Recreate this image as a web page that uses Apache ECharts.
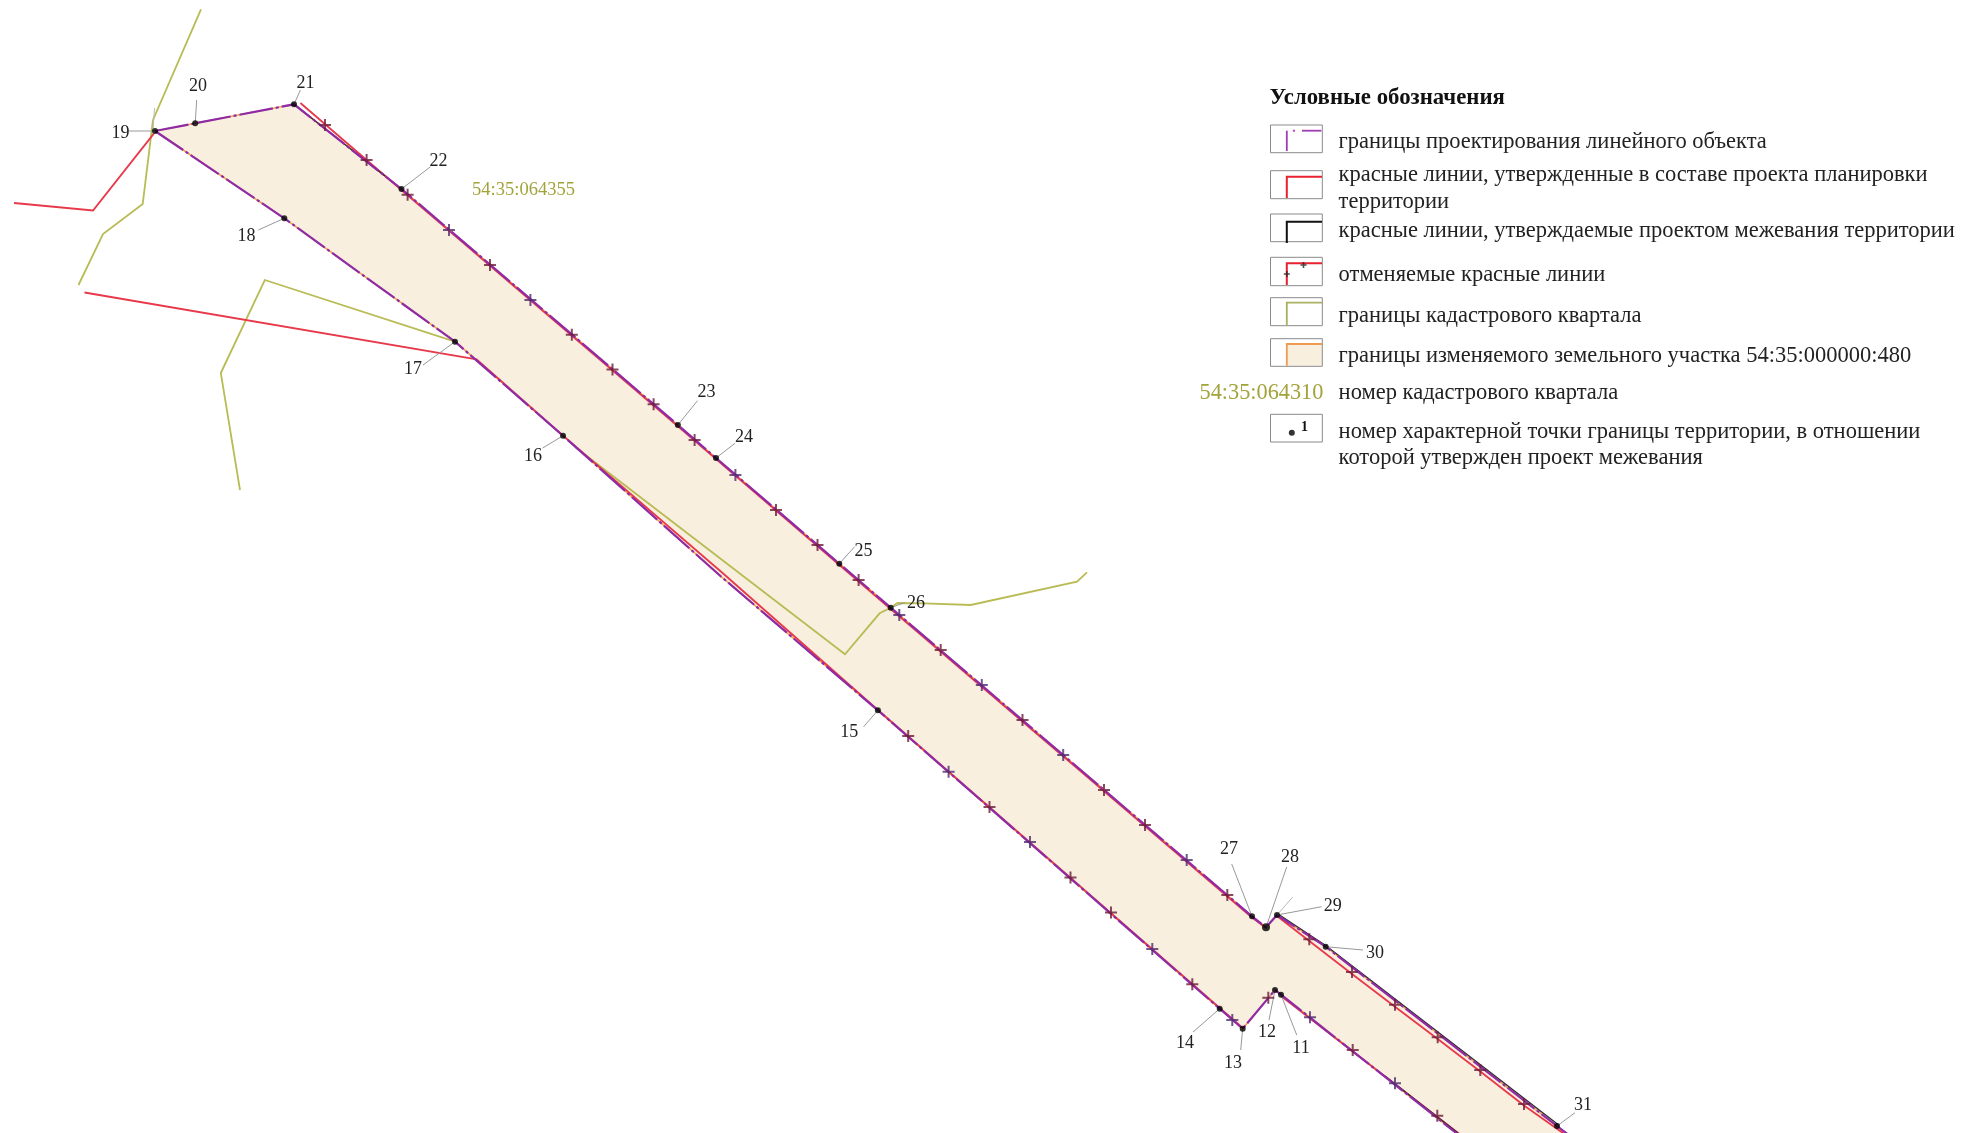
<!DOCTYPE html>
<html><head><meta charset="utf-8">
<style>html,body{margin:0;padding:0;background:#fff}#c{width:1977px;height:1133px}</style>
<script src="https://cdn.jsdelivr.net/npm/echarts@6/dist/echarts.min.js"></script>
</head><body><div id="c"></div>
<script>
const parcelOutline=[[155,131],[195.2,123.3],[294,104.3],[401.5,189],[677.9,425],[716,458],[839.3,563.7],[890.7,607.7],[1252,916.3],[1266,927.3],[1277,915],[1325.7,946.7],[1557,1126],[1567,1133],[1457,1133],[1281,994.7],[1275,990],[1242.7,1028.7],[1219.7,1008.7],[877.9,710.3],[721,576.5],[563,435.7],[455,341.7],[284.3,218.3]];
const designBoundary=[[155,131],[195.2,123.3],[294,104.3],[401.5,189],[677.9,425],[716,458],[839.3,563.7],[890.7,607.7],[1252,916.3],[1266,927.3],[1277,915],[1325.7,946.7],[1557,1126],[1570,1136]];
const designBoundaryLower=[[155,131],[284.3,218.3],[455,341.7],[563,435.7],[721,576.5],[877.9,710.3],[1219.7,1008.7],[1242.7,1028.7],[1275,990],[1281,994.7],[1460,1136]];
const redWest=[[14,203],[93,210.5],[153.8,133.6]];
const redSouth=[[84.5,292.5],[476.6,359.3],[563,435.7],[722,572.5],[877.9,710],[1219.7,1008],[1242.7,1028]];
const redNorth=[[300.4,103],[366.6,160],[401.5,190],[677.9,426.3],[890.7,609],[1252,917.5],[1266,928]];
const redEast=[[1277,916],[1309.3,941],[1352,974],[1395,1006.7],[1437.7,1039],[1480.3,1071.5],[1524,1105.5],[1570,1138]];
const redSouthEast=[[1281,996],[1462,1136]];
const blackNorth=[[294,104.3],[385,176]];
const blackEast=[[1278,914],[1325.7,945.5],[1558,1124.5]];
const blackSouthEast=[[1385,1076],[1458,1133]];
const greyTicks=[[[154.5,108],[153,130]],[[1292.7,897],[1277,915]]];
const olivePaths=[
 [[201,9.3],[153,120],[142.7,204],[103,234],[78.5,285]],
 [[240,490],[220.8,373],[264.8,280],[455,341.7]],
 [[575,447],[845,654.3],[879.6,613.3],[890.7,607.7],[897.5,603],[924.3,603.3],[970.7,605],[1077,581.7],[1087,572.3]]
];
const crossMarks=[[325,125],[366.6,160],[407.6,194.7],[490,265],[571.8,334.7],[612.5,369.5],[653.6,404.3],[694.6,440],[776,510],[817.5,545],[858.6,580],[940.7,650],[1022.5,720],[1104,790],[1145,825],[1227.3,895],[1309.3,939.3],[1352,972],[1395,1004.7],[1437.7,1037.3],[1480.3,1070],[1524,1104],[908.2,736],[989.5,807],[1070.5,877.5],[1111,912.5],[1192.3,984.3],[1268.3,997.7],[1352.7,1050],[1437.3,1115.7]];
const crossMarksPurple=[[449,230],[530.4,300],[735.4,475],[899.3,615],[981.8,685],[1063.2,755],[1186.7,860],[948.6,771.7],[1030,842],[1152.3,949],[1232.3,1020],[1310,1017.3],[1395,1083.3]];
const pointNames=['11','12','13','14','15','16','17','18','19','20','21','22','23','24','25','26','27','28','29','30','31'];
const pointXY=[[1281,994.7],[1275,990],[1242.7,1028.7],[1219.7,1008.7],[877.9,710.3],[563,435.7],[455,341.7],[284.3,218.3],[155,131],[195.2,123.3],[294,104.3],[401.5,189],[677.9,425],[716,458],[839.3,563.7],[890.7,607.7],[1252,916.3],[1266,927.3],[1277,915],[1325.7,946.7],[1557,1126]];
const labelXY=[[1301,1048.2],[1267,1032.2],[1233,1063.2],[1185,1043.2],[849.3,732],[533,456.2],[413,369.5],[246.5,236.2],[120.5,133],[197.9,86.5],[305.4,83],[438.6,161.2],[706.4,392.2],[744,437],[863.6,551.2],[916,603],[1229,849.2],[1290,857.2],[1332.7,906],[1375,953.2],[1583,1105.2]];
const leaderEnds=[[1296.7,1035],[1269,1020],[1240.7,1050],[1193,1032],[863.6,726.7],[542.7,448],[423,365],[258.3,230],[129,131],[196.7,100],[300.4,90],[430.5,166.7],[697.5,400.7],[735,443.3],[854.6,546.7],[904.6,602.7],[1231.7,864],[1286.7,867],[1321.7,906.7],[1363,950],[1575,1112.7]];
const quarterLabel='54:35:064355';
const quarterLabelXY=[523.5,189.8];
const legendTitle='Условные обозначения';
const legendTitleXY=[1269.6,97.8];
const legendLines=[
 ['границы проектирования линейного объекта',141.7],
 ['красные линии, утвержденные в составе проекта планировки',175.3],
 ['территории',201.7],
 ['красные линии, утверждаемые проектом межевания территории',230.7],
 ['отменяемые красные линии',274.7],
 ['границы кадастрового квартала',315.7],
 ['границы изменяемого земельного участка 54:35:000000:480',355.7],
 ['номер кадастрового квартала',393.3],
 ['номер характерной точки границы территории, в отношении',431.8],
 ['которой утвержден проект межевания',458.3]
];
const legendTextX=1338.6;
const legendQuarterText='54:35:064310';
const legendQuarterXY=[1323.4,393.2];
const legendBoxes=[[125,152.7],[170.7,198.7],[214,241.7],[257.3,285.7],[297.7,325.7],[338.7,366.3],[414.3,442]];
const legendBoxX=[1270.5,1322.3];
const legendPurpleV=[[1286.8,130.7],[1286.8,151]];
const legendPurpleDot=[[1293.9,130.7]];
const legendPurpleH=[[1302,130.7],[1321.3,130.7]];
const legendRed=[[1286.8,198],[1286.8,176.7],[1322,176.7]];
const legendBlack=[[1286.8,243],[1286.8,221.7],[1322,221.7]];
const legendCancel=[[1286.8,285],[1286.8,263.3],[1322,263.3]];
const legendCancelMarks=[[1303.5,265],[1286.8,274]];
const legendOlive=[[1286.8,325],[1286.8,302.7],[1322,302.7]];
const legendOrange=[[1286.8,365.8],[1286.8,344],[1322,344]];
const legendOrangeFill=[[1286.8,344],[1322,344],[1322,365.8],[1286.8,365.8]];
const legendDot=[[1291.8,432.7]];
const legendDotLabel=[1304.6,427.3];

const serif='"Liberation Serif","DejaVu Serif",serif';
const line=(data,color,width,z,dash)=>({type:'line',data,symbol:'none',silent:true,animation:false,z,
  lineStyle:{color,width,type:dash||'solid',cap:'butt',join:'miter'}});
const poly=(pts,fill,stroke,z,lw)=>({type:'custom',silent:true,animation:false,z,clip:true,coordinateSystem:'cartesian2d',
  data:pts,encode:{x:0,y:1},
  renderItem:(p,api)=>p.dataIndex===0?{type:'polygon',shape:{points:pts.map(q=>api.coord(q))},
    style:{fill,stroke:stroke||'none',lineWidth:lw||0}}:null});
const text=(s,xy,size,color,align,weight,z)=>({type:'scatter',silent:true,animation:false,z:z||20,symbolSize:1,
  itemStyle:{opacity:0},data:[{value:xy,name:s}],
  label:{show:true,position:'inside',formatter:s,fontFamily:serif,fontSize:size,color,align:align||'center',
    verticalAlign:'middle',fontWeight:weight||'normal',opacity:1}});
const marks=(data,color,size,w,z)=>({type:'scatter',silent:true,animation:false,z:z||12,data,
  symbol:'path://M6,0L6,12M0,6L12,6',symbolSize:size,
  itemStyle:{color:'rgba(0,0,0,0)',borderColor:color,borderWidth:w}});

const series=[];
series.push(poly(parcelOutline,'#f9efdf',null,1));
series.push(line(designBoundary,'#f0a050',1.6,2));
series.push(line(designBoundaryLower,'#f0a050',1.6,2));
olivePaths.forEach(p=>series.push(line(p,'#b9bb55',1.8,3)));
[redWest,redSouth,redNorth,redEast,redSouthEast].forEach(p=>series.push(line(p,'#e8394a',1.8,4)));
[blackNorth,blackEast,blackSouthEast].forEach(p=>series.push(line(p,'#2a2a2a',1.3,4.5)));
series.push(line(designBoundary,'#8f2ba6',2.2,5,[34,3,3,3]));
series.push(line(designBoundaryLower,'#8f2ba6',2.2,5,[34,3,3,3]));
series.push(marks(crossMarks,'#6b1b38',12,2));
series.push(marks(crossMarksPurple,'#4f2a6e',12,2));
pointXY.forEach((p,i)=>series.push(line([leaderEnds[i],p],'#999',1,7)));
greyTicks.forEach(p=>series.push(line(p,'#bbb',1,7)));
series.push({type:'scatter',silent:true,animation:false,z:13,symbol:'circle',symbolSize:d=>d[0]===1266?8:6,data:pointXY,itemStyle:{color:'#000'}});
pointNames.forEach((n,i)=>series.push(text(n,labelXY[i],18,'#222')));
series.push(text(quarterLabel,quarterLabelXY,18.5,'#a3a33c'));
// legend
series.push(text(legendTitle,legendTitleXY,22.8,'#111','left','bold'));
legendLines.forEach(l=>series.push(text(l[0],[legendTextX,l[1]],22.5,'#222','left')));
series.push(text(legendQuarterText,legendQuarterXY,22.3,'#a3a33c','right'));
series.push(poly(legendOrangeFill,'#f9efdf',null,14));
legendBoxes.forEach(b=>{
  const [x0,x1]=legendBoxX;
  series.push(line([[x0,b[0]],[x1,b[0]],[x1,b[1]],[x0,b[1]],[x0,b[0]]],'#8a8a8a',1,15));
});
series.push(line(legendPurpleV,'#a03ab5',1.8,16));
series.push(line(legendPurpleH,'#a03ab5',1.8,16));
series.push({type:'scatter',silent:true,animation:false,z:16,symbol:'circle',symbolSize:2.5,data:legendPurpleDot,itemStyle:{color:'#a03ab5'}});
series.push(line(legendRed,'#e8202f',2,16));
series.push(line(legendBlack,'#111',2,16));
series.push(line(legendCancel,'#e8202f',2,16));
series.push(marks(legendCancelMarks,'#222',6,1.6,17));
series.push(line(legendOlive,'#a9b060',1.8,16));
series.push(line(legendOrange,'#f09a50',1.8,16));
series.push({type:'scatter',silent:true,animation:false,z:16,symbol:'circle',symbolSize:6,data:legendDot,itemStyle:{color:'#000'}});
series.push(text('1',legendDotLabel,14,'#111','center','bold'));

const chart=echarts.init(document.getElementById('c'),null,{renderer:'canvas'});
chart.setOption({animation:false,backgroundColor:'#fff',
  grid:{left:0,right:0,top:0,bottom:0},
  xAxis:{type:'value',min:0,max:1977,show:false},
  yAxis:{type:'value',min:0,max:1133,inverse:true,show:false},
  tooltip:{show:false},
  series});
</script></body></html>
